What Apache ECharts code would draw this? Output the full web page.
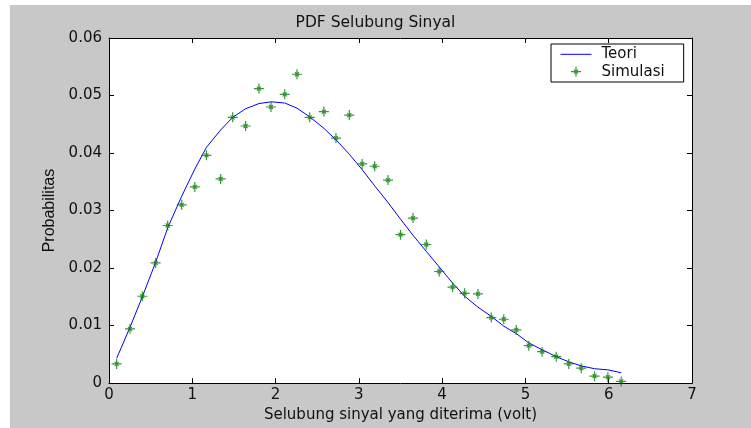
<!DOCTYPE html>
<html>
<head>
<meta charset="utf-8">
<script src="https://cdn.jsdelivr.net/npm/echarts@6/dist/echarts.min.js"></script>
<style>html,body{margin:0;padding:0;background:#fff}#c{width:751px;height:428px}</style>
</head>
<body>
<div id="c"></div>
<script>
var titleText = 'PDF Selubung Sinyal';
var xName = 'Selubung sinyal yang diterima (volt)';
var yName = 'Probabilitas';
var xTickLabels = ['0','1','2','3','4','5','6','7'];
var yTickLabels = ['0','0.01','0.02','0.03','0.04','0.05','0.06'];
var binX = [0.092,0.252,0.40,0.56,0.705,0.873,1.03,1.17,1.34,1.485,1.64,1.80,1.945,2.11,2.257,2.41,2.58,2.725,2.885,3.04,3.19,3.35,3.50,3.65,3.81,3.965,4.125,4.27,4.43,4.59,4.74,4.89,5.04,5.20,5.37,5.52,5.67,5.83,5.99,6.15];
var teori = [0.0043,0.0097,0.0150,0.0210,0.0270,0.0325,0.0372,0.0410,0.0440,0.0462,0.0477,0.0486,0.0489,0.0487,0.0478,0.0463,0.0443,0.0423,0.0398,0.0371,0.0343,0.0314,0.0285,0.0257,0.0229,0.0202,0.0174,0.0151,0.0132,0.0116,0.0099,0.0086,0.0070,0.0058,0.0046,0.0037,0.0030,0.0025,0.0023,0.0018];
var simulasi = [0.00333,0.00943,0.0151,0.0209,0.0274,0.0310,0.0341,0.0396,0.0355,0.0462,0.0447,0.0512,0.0480,0.0502,0.0537,0.0462,0.0472,0.0426,0.0466,0.0381,0.0377,0.0353,0.0258,0.0287,0.0241,0.0194,0.0167,0.0156,0.0155,0.0114,0.0111,0.00925,0.0065,0.00546,0.0046,0.00333,0.00259,0.00121,0.00103,0.00029];

var F = 'DejaVu Sans';
var chart = echarts.init(document.getElementById('c'), null, {renderer:'canvas'});
var star = 'path://M0,4.4H10V5.6H0Z M4.4,0H5.6V10H4.4Z M2.6,3.4L3.4,2.6L7.4,6.6L6.6,7.4Z M6.6,2.6L7.4,3.4L3.4,7.4L2.6,6.6Z M3.8,3.8H6.2V6.2H3.8Z';
function pairs(xs, ys){ return xs.map(function(x,i){ return [x, ys[i]]; }); }
var axisCommon = {
  axisLine:{show:true, onZero:false, lineStyle:{color:'#000', width:1}},
  axisTick:{show:true, inside:true, length:5, lineStyle:{color:'#000'}},
  splitLine:{show:false}
};
chart.setOption({
  backgroundColor:'#fff',
  animation:false,
  graphic:[{type:'rect', z:-10, shape:{x:10,y:5,width:741,height:423}, style:{fill:'#c8c8c8'}, silent:true}],
  title:{text:titleText, left:'center', top:15, padding:0,
    textStyle:{fontFamily:F, fontSize:15.5, fontWeight:'normal', color:'#111'}},
  grid:{left:109, top:38, right:59, bottom:41, show:true, backgroundColor:'#fff', borderWidth:0},
  legend:{
    left:551, top:44, orient:'vertical',
    padding:[1.6,19,1.6,9], itemGap:0, itemWidth:31, itemHeight:10,
    backgroundColor:'#fff', borderColor:'#000', borderWidth:1,
    textStyle:{fontFamily:F, fontSize:15, color:'#111', lineHeight:17.4, padding:[0,0,0,5]},
    data:[{name:'Teori', itemStyle:{opacity:0}, lineStyle:{width:1, color:'#0000ff'}}, {name:'Simulasi'}]
  },
  xAxis:[
    Object.assign({type:'value', min:0, max:7, interval:1, position:'bottom',
      name:xName, nameLocation:'middle', nameGap:21,
      nameTextStyle:{fontFamily:F, fontSize:15, color:'#111'},
      axisLabel:{fontFamily:F, fontSize:15, color:'#111', margin:5,
        formatter:function(v){ return xTickLabels[Math.round(v)]; }}}, axisCommon),
    Object.assign({type:'value', min:0, max:7, interval:1, position:'top', axisLabel:{show:false}}, axisCommon)
  ],
  yAxis:[
    Object.assign({type:'value', min:0, max:0.06, interval:0.01, position:'left',
      name:yName, nameLocation:'middle', nameGap:48, nameRotate:90,
      nameTextStyle:{fontFamily:'Liberation Sans Narrow, Liberation Sans', fontSize:16, color:'#111'},
      axisLabel:{fontFamily:F, fontSize:15, color:'#111', margin:7,
        formatter:function(v){ return yTickLabels[Math.round(v*100)]; }}}, axisCommon),
    Object.assign({type:'value', min:0, max:0.06, interval:0.01, position:'right', axisLabel:{show:false}}, axisCommon)
  ],
  series:[
    {name:'Teori', type:'line', data:pairs(binX, teori), symbol:'none', smooth:false,
      lineStyle:{color:'#0000ff', width:1}, itemStyle:{color:'#0000ff'}, z:2},
    {name:'Simulasi', type:'scatter', data:pairs(binX, simulasi), symbol:star, symbolSize:10,
      itemStyle:{color:'#067a06'}, z:3}
  ]
});
</script>
</body>
</html>
